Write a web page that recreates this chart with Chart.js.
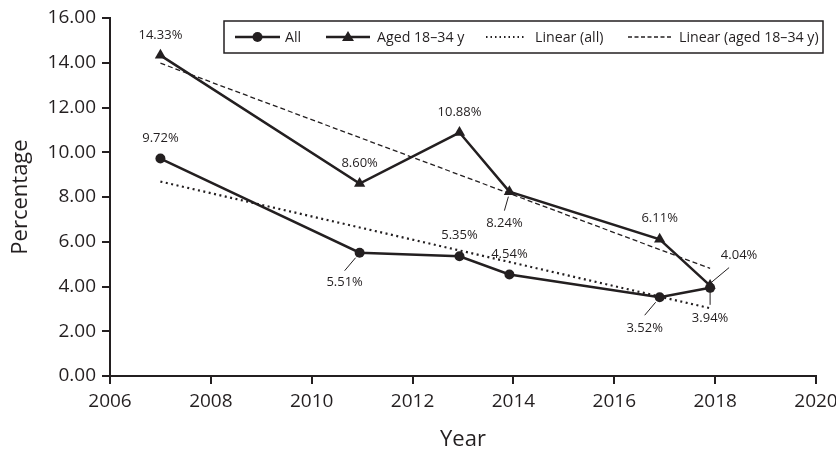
<!DOCTYPE html>
<html>
<head>
<meta charset="utf-8">
<script src="https://cdn.jsdelivr.net/npm/chart.js@4/dist/chart.umd.min.js"></script>
<style>
  html, body { margin: 0; padding: 0; background: #fff; }
  #wrap { width: 836px; height: 453px; }
</style>
</head>
<body>
<div id="wrap"><canvas id="chart" width="836" height="453"></canvas></div>
<script>
// survey years (as plotted) and percentages
const yearsAll = [2007, 2010.95, 2012.93, 2013.92, 2016.9, 2017.9];
const pctAll = [9.72, 5.51, 5.35, 4.54, 3.52, 3.94];
const yearsYoung = [2007, 2010.95, 2012.93, 2013.92, 2016.9, 2017.9];
const pctYoung = [14.33, 8.60, 10.88, 8.24, 6.11, 4.04];

// trend line end points
const trendYears = [2007, 2017.9];
const trendAll = [8.69, 3.03];
const trendYoung = [13.98, 4.81];

const INK = '#231f20';
const FONT = '"Open Sans", "DejaVu Sans", sans-serif';

const toXY = (xs, ys) => xs.map((x, i) => ({ x: x, y: ys[i] }));

// where each value label sits relative to its point (px), with optional leader line
const labelPosAll = [
  { dx: 0, dy: -20 },
  { dx: -15, dy: 30, lead: [-4, 5, -15, 18] },
  { dx: 0, dy: -21 },
  { dx: 0, dy: -20 },
  { dx: -15, dy: 31, lead: [-4, 5, -15, 18] },
  { dx: 0, dy: 30, lead: [0, 4, 0, 17] }
];
const labelPosYoung = [
  { dx: 0, dy: -20 },
  { dx: 0, dy: -20 },
  { dx: 0, dy: -20 },
  { dx: -5, dy: 32, lead: [-1, 5, -5, 19] },
  { dx: 0, dy: -21 },
  { dx: 29, dy: -30, lead: [1, -3, 19, -18] }
];

const valueLabels = {
  id: 'valueLabels',
  afterDatasetsDraw(chart) {
    const ctx = chart.ctx;
    ctx.save();
    ctx.font = '13px ' + FONT;
    ctx.fillStyle = INK;
    ctx.strokeStyle = INK;
    ctx.lineWidth = 1;
    ctx.textAlign = 'center';
    ctx.textBaseline = 'middle';
    [[0, labelPosAll, pctAll], [1, labelPosYoung, pctYoung]].forEach(([idx, pos, vals]) => {
      chart.getDatasetMeta(idx).data.forEach((pt, i) => {
        const p = pos[i];
        if (p.lead) {
          ctx.beginPath();
          ctx.moveTo(pt.x + p.lead[0], pt.y + p.lead[1]);
          ctx.lineTo(pt.x + p.lead[2], pt.y + p.lead[3]);
          ctx.stroke();
        }
        ctx.fillText(vals[i].toFixed(2) + '%', pt.x + p.dx, pt.y + p.dy);
      });
    });
    ctx.restore();
  }
};

// boxed legend with line + marker samples
const boxLegend = {
  id: 'boxLegend',
  afterDraw(chart) {
    const ctx = chart.ctx;
    const top = 21, h = 32, left = 224, right = 823;
    const cy = top + h / 2;
    ctx.save();
    ctx.fillStyle = '#fff';
    ctx.fillRect(left, top, right - left, h);
    ctx.strokeStyle = INK;
    ctx.lineWidth = 1.5;
    ctx.strokeRect(left, top, right - left, h);

    const items = [
      { x0: 235, x1: 280, text: 'All', tx: 285, marker: 'circle', dash: [], w: 2.5 },
      { x0: 326, x1: 370, text: 'Aged 18–34 y', tx: 377, marker: 'triangle', dash: [], w: 2.5 },
      { x0: 486, x1: 526, text: 'Linear (all)', tx: 535, marker: null, dash: [1.5, 3], w: 2 },
      { x0: 628, x1: 672, text: 'Linear (aged 18–34 y)', tx: 679, marker: null, dash: [4, 2.5], w: 1.3 }
    ];
    ctx.font = '14.2px ' + FONT;
    ctx.textBaseline = 'middle';
    items.forEach(it => {
      ctx.strokeStyle = INK;
      ctx.lineWidth = it.w;
      ctx.setLineDash(it.dash);
      ctx.beginPath();
      ctx.moveTo(it.x0, cy);
      ctx.lineTo(it.x1, cy);
      ctx.stroke();
      ctx.setLineDash([]);
      const mx = (it.x0 + it.x1) / 2;
      ctx.fillStyle = INK;
      if (it.marker === 'circle') {
        ctx.beginPath();
        ctx.arc(mx, cy, 5, 0, Math.PI * 2);
        ctx.fill();
      } else if (it.marker === 'triangle') {
        ctx.beginPath();
        ctx.moveTo(mx, cy - 6);
        ctx.lineTo(mx + 6, cy + 4);
        ctx.lineTo(mx - 6, cy + 4);
        ctx.closePath();
        ctx.fill();
      }
      ctx.fillText(it.text, it.tx, cy + 1);
    });
    ctx.restore();
  }
};

const axisStyle = {
  border: { color: INK, width: 2 },
  grid: { drawOnChartArea: false, drawTicks: true, tickLength: 8, color: INK, lineWidth: 2 },
};

new Chart(document.getElementById('chart').getContext('2d'), {
  type: 'line',
  data: {
    datasets: [
      {
        label: 'All',
        data: toXY(yearsAll, pctAll),
        borderColor: INK,
        backgroundColor: INK,
        borderWidth: 2.5,
        pointStyle: 'circle',
        pointRadius: 5,
        pointBorderWidth: 0
      },
      {
        label: 'Aged 18–34 y',
        data: toXY(yearsYoung, pctYoung),
        borderColor: INK,
        backgroundColor: INK,
        borderWidth: 2.5,
        pointStyle: 'triangle',
        pointRadius: 6.5,
        pointBorderWidth: 0
      },
      {
        label: 'Linear (all)',
        data: toXY(trendYears, trendAll),
        borderColor: INK,
        borderWidth: 2.2,
        borderDash: [2, 3.5],
        pointRadius: 0
      },
      {
        label: 'Linear (aged 18–34 y)',
        data: toXY(trendYears, trendYoung),
        borderColor: INK,
        borderWidth: 1.3,
        borderDash: [5, 3],
        pointRadius: 0
      }
    ]
  },
  options: {
    responsive: false,
    animation: false,
    layout: { padding: { top: 18, right: 20, left: 0, bottom: 0 } },
    plugins: {
      legend: { display: false },
      tooltip: { enabled: false }
    },
    scales: {
      x: {
        type: 'linear',
        min: 2006,
        max: 2020,
        ...axisStyle,
        ticks: {
          stepSize: 2,
          padding: 6,
          color: INK,
          font: { family: FONT, size: 19 },
          callback: v => String(v)
        },
        title: {
          display: true,
          text: 'Year',
          color: INK,
          font: { family: FONT, size: 22 },
          padding: { top: 0, bottom: 0 }
        },
        afterFit: s => {
          s.height = 77;
          // let end labels hang into the outer padding
          s.paddingLeft = 0;
          s.paddingRight = 0;
        }
      },
      y: {
        min: 0,
        max: 16,
        ...axisStyle,
        ticks: {
          stepSize: 2,
          padding: 6,
          color: INK,
          font: { family: FONT, size: 19 },
          callback: v => v.toFixed(2)
        },
        title: {
          display: true,
          text: 'Percentage',
          color: INK,
          font: { family: FONT, size: 22 },
          padding: { top: 8, bottom: 0 }
        },
        afterFit: s => {
          s.width = 110;
          s.paddingTop = 0;
          s.paddingBottom = 0;
        }
      }
    }
  },
  plugins: [valueLabels, boxLegend]
});
</script>
</body>
</html>
